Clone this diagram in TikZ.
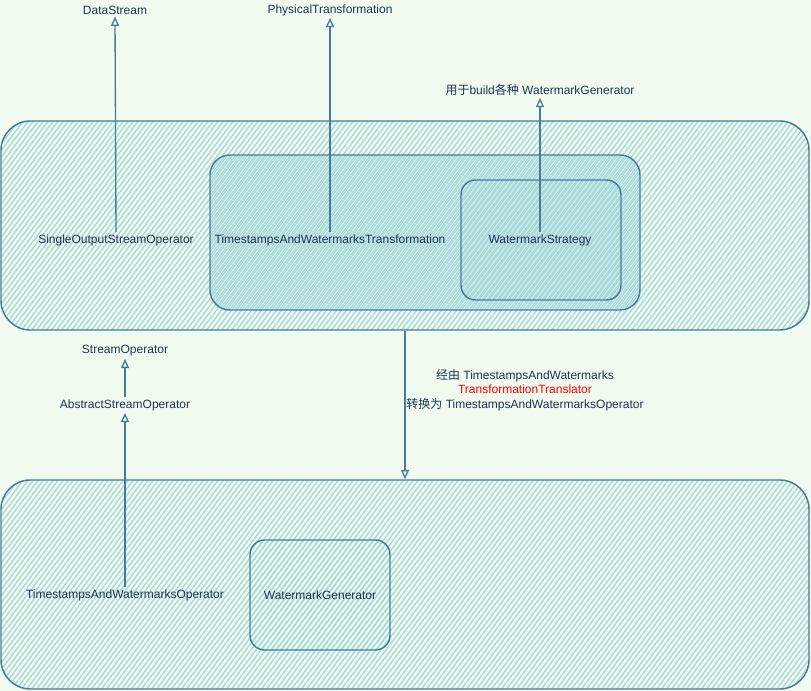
\documentclass[tikz,border=0pt]{standalone}
\usepackage{fontspec}
\setmainfont{Liberation Sans}
\newfontfamily\cjk{Noto Sans CJK SC}
\usetikzlibrary{arrows.meta}
\definecolor{bgc}{HTML}{F1FAEE}
\definecolor{strokec}{HTML}{457B9D}
\definecolor{fillc}{HTML}{A8DADC}
\definecolor{textc}{HTML}{1D3557}
\tikzset{
  hatchline/.style={draw=fillc, line width=1.05pt},
  % diagonal hachure clipped to the node outline; #1 shifts the strokes sideways
  hatch/.style={path picture={
    \foreach \k in {-125,...,125}{
      \draw[hatchline] ([shift={(\k*5+#1-300,400)}]path picture bounding box.center) -- ++(600,-800);
    }}},
  panel/.style={draw=strokec, line width=1.1pt, rectangle, inner sep=0pt, hatch=0},
  inset/.style={panel, hatch=2.5},
  lbl/.style={text=textc, font=\fontsize{9pt}{11pt}\selectfont, inner sep=1.5pt},
  link/.style={draw=strokec, line width=1pt, -{Triangle[open,length=7pt,width=6pt]}},
}
\begin{document}
\begin{tikzpicture}[x=0.75pt,y=-0.75pt]
\fill[bgc] (0,0) rectangle (811,691);
\useasboundingbox (0,0) rectangle (811,691);

% outer panels
\node[panel, rounded corners=22pt, minimum width=606pt, minimum height=156.75pt] (box1) at (405,225.5) {};
\node[panel, rounded corners=22pt, minimum width=606pt, minimum height=156.75pt] (box2) at (405,584.5) {};

% nested panels
\node[inset, rounded corners=15pt, minimum width=322.5pt, minimum height=116.25pt] (trans) at (425,232.5) {};
\node[inset, rounded corners=11pt, minimum width=120pt, minimum height=90pt] (strat) at (541,240) {};
\node[inset, rounded corners=11pt, minimum width=105pt, minimum height=82.5pt] (gen) at (320,595) {};

% labels
\node[lbl] (ds) at (115,10) {DataStream};
\node[lbl] (pt) at (330,10) {PhysicalTransformation};
\node[lbl] (wgb) at (540,90) {{\cjk 用于}build{\cjk 各种} WatermarkGenerator};
\node[lbl] (soso) at (116,240) {SingleOutputStreamOperator};
\node[lbl] (tawt) at (330,240) {TimestampsAndWatermarksTransformation};
\node[lbl] (ws) at (540,240) {WatermarkStrategy};
\node[lbl] (so) at (125,351) {StreamOperator};
\node[lbl] (aso) at (125,405) {AbstractStreamOperator};
\node[lbl] (tawo) at (125,595) {TimestampsAndWatermarksOperator};
\node[lbl] (wg) at (320,595) {WatermarkGenerator};
\node[lbl, align=center] (via) at (525,390)
  {{\cjk 经由} TimestampsAndWatermarks\\
   \textcolor{red}{TransformationTranslator}\\
   {\cjk 转换为} TimestampsAndWatermarksOperator};

% connectors
\draw[link] (soso.north) -- (ds.south);
\draw[link] (tawt.north) -- (pt.south);
\draw[link] (ws.north) -- (wgb.south);
\draw[link] (aso.north) -- (so.south);
\draw[link] (tawo.north) -- (aso.south);
\draw[link] (box1.south) -- (box2.north);
\end{tikzpicture}
\end{document}
